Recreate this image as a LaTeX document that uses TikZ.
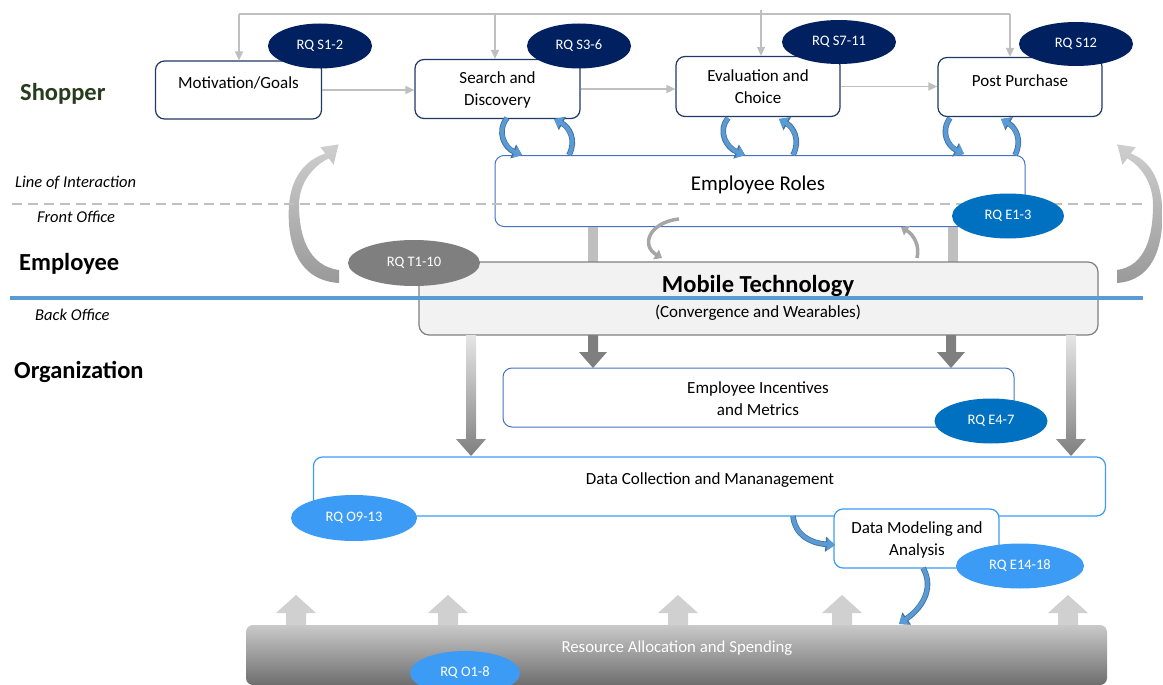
\documentclass[tikz,border=0pt]{standalone}
\usepackage{fontspec}
\setmainfont{Carlito}
\usetikzlibrary{arrows.meta,shapes.geometric}
\definecolor{boxnavy}{HTML}{1F3864}
\definecolor{rqnavy}{HTML}{002060}
\definecolor{erblue}{HTML}{4472C4}
\definecolor{rqblue}{HTML}{0070C0}
\definecolor{dcblue}{HTML}{3C9CF5}
\definecolor{rqlight}{HTML}{3C9CF5}
\definecolor{cblue}{HTML}{5B9BD5}
\definecolor{cbluedark}{HTML}{41719C}
\definecolor{fbgray}{HTML}{BFBFBF}
\definecolor{smallgray}{HTML}{A6A6A6}
\definecolor{darkarrow}{HTML}{7F7F7F}
\definecolor{uparrow}{HTML}{D0D0D0}
\definecolor{mtfill}{HTML}{F2F2F2}
\definecolor{mtdraw}{HTML}{7F7F7F}
\definecolor{shopgreen}{HTML}{263C1C}
\definecolor{lineblue}{HTML}{5B9BD5}
\definecolor{dashgray}{HTML}{C0C0C0}
\begin{document}
\begin{tikzpicture}[x=1pt,y=-1pt,
  shopbox/.style={draw=boxnavy, line width=1.2pt, rounded corners=9pt, fill=white, inner sep=0pt},
  erbox/.style={draw=erblue, line width=1pt, rounded corners=9pt, inner sep=0pt},
  dcbox/.style={draw=dcblue, line width=1.2pt, rounded corners=9pt, fill=white, inner sep=0pt},
  rq/.style={ellipse, inner sep=0pt, text=white, font=\fontsize{14.5}{17}\selectfont},
  txt/.style={font=\fontsize{17}{22}\selectfont, align=center, inner sep=0pt},
  sidelab/.style={anchor=west, inner sep=0pt, font=\itshape\fontsize{16.5}{19}\selectfont},
  sidehead/.style={anchor=west, inner sep=0pt, font=\bfseries\fontsize{24.5}{28}\selectfont},
  fb/.style={draw=fbgray, line width=1.5pt},
  fbarrow/.style={fb, -{Triangle[length=9pt,width=8pt]}},
  bluecurve/.style={draw=cblue, line width=4pt, -{Triangle[length=8pt,width=12pt]},
     preaction={draw=cbluedark, line width=5.6pt, -{Triangle[length=9.5pt,width=14.5pt]}}},
  bigcurve/.style={top color=black!19, bottom color=black!40},
  smallcurve/.style={draw=smallgray, line width=3.5pt, -{Triangle[length=7pt,width=11pt]}}
]
\useasboundingbox (0,0) rectangle (1163,685);

% ---------- shopper row ----------
\node[shopbox, minimum width=166pt, minimum height=58pt] (mot)  at (238.5,90) {};
\node[shopbox, minimum width=165pt, minimum height=59pt] (srch) at (497.5,89) {};
\node[shopbox, minimum width=164pt, minimum height=60pt] (eval) at (758,86.5) {};
\node[shopbox, minimum width=164pt, minimum height=59pt] (post) at (1020,87) {};
\node[txt] (motT)  at (238.5,83) {Motivation/Goals};
\node[txt] (srchT) at (497.5,90) {Search and\\Discovery};
\node[txt] (evalT) at (758,87) {Evaluation and\\Choice};
\node[txt] (postT) at (1020,81) {Post Purchase};

% top feedback line
\coordinate (t1) at (239,14);
\coordinate (t2) at (495,14);
\coordinate (t3) at (761,10);
\coordinate (t4) at (1010,14);
\draw[fb] (t1) -- (t4);
\draw[fbarrow] (t1) -- (t1 |- mot.north);
\draw[fbarrow] (t2) -- (t2 |- srch.north);
\draw[fbarrow] (t3) -- (t3 |- eval.north);
\draw[fbarrow] (t4) -- (t4 |- post.north);
\draw[fbarrow] (mot.east) -- (mot.east -| srch.west);
\draw[fbarrow] (srch.east) -- (srch.east -| eval.west);
\draw[fbarrow] (eval.east) -- (eval.east -| post.west);

% RQ shopper ovals
\node[rq, fill=rqnavy, minimum width=104pt, minimum height=45pt] (rqs1) at (320,46) {RQ S1-2};
\node[rq, fill=rqnavy, minimum width=104pt, minimum height=45pt] (rqs3) at (579,46) {RQ S3-6};
\node[rq, fill=rqnavy, minimum width=114pt, minimum height=44pt] (rqs7) at (839,42) {RQ S7-11};
\node[rq, fill=rqnavy, minimum width=114pt, minimum height=44pt] (rqs12) at (1076,44) {RQ S12};

% ---------- side labels ----------
\node[sidehead, text=shopgreen] (lshop) at (20,94) {Shopper};
\node[sidelab] (lloi) at (15,183) {Line of Interaction};
\node[sidelab] (lfo) at (37,217) {Front Office};
\node[sidehead] (lemp) at (19,264) {Employee};
\node[sidelab] (lbo) at (35,315) {Back Office};
\node[sidehead] (lorg) at (14,372) {Organization};

% ---------- employee roles ----------
\node[erbox, minimum width=530pt, minimum height=71pt] (er) at (760,191) {};
\node[inner sep=0pt, font=\fontsize{21}{24}\selectfont] (erT) at (758,185) {Employee Roles};

% blue curved arrows between shopper boxes and employee roles
\coordinate (a1s) at (507,118); \coordinate (a1e) at (522,155);
\coordinate (a2s) at (569,155); \coordinate (a2e) at (554,119);
\coordinate (a3s) at (728,118); \coordinate (a3e) at (745,155);
\coordinate (a4s) at (793,155); \coordinate (a4e) at (779,119);
\coordinate (a5s) at (950,118); \coordinate (a5e) at (964,154);
\coordinate (a6s) at (1015,155); \coordinate (a6e) at (1001,119);
\draw[bluecurve] (a1s) .. controls (496,132) and (505,148) .. (a1e);
\draw[bluecurve] (a2s) .. controls (577,140) and (569,127) .. (a2e);
\draw[bluecurve] (a3s) .. controls (717,132) and (727,148) .. (a3e);
\draw[bluecurve] (a4s) .. controls (801,140) and (793,127) .. (a4e);
\draw[bluecurve] (a5s) .. controls (940,132) and (948,146) .. (a5e);
\draw[bluecurve] (a6s) .. controls (1023,140) and (1015,127) .. (a6e);

% big gray curved (tapered) arrows
\shade[bigcurve] (339,283) .. controls (293,280) and (287,235) .. (289,205)
   .. controls (291,178) and (305,160) .. (325.2,153.6)
   -- (320.4,147.2) -- (338.6,144.4) -- (333.6,164.8) -- (328.8,158.4)
   .. controls (313,166) and (299,183) .. (299,205)
   .. controls (299,235) and (308,266) .. (339,270) -- cycle;
\begin{scope}[xshift=1456pt, xscale=-1]
\shade[bigcurve] (339,283) .. controls (297,280) and (292,235) .. (294,205)
   .. controls (296,178) and (307,160) .. (325.2,153.6)
   -- (320.4,147.2) -- (338.6,144.4) -- (333.6,164.8) -- (328.8,158.4)
   .. controls (315,166) and (303,183) .. (303,205)
   .. controls (303,235) and (310,266) .. (339,270) -- cycle;
\end{scope}

% dashed line of interaction
\coordinate (d1) at (12,204);
\coordinate (d2) at (1143,204);
\draw[draw=dashgray, line width=2.4pt, dash pattern=on 10pt off 6pt] (d1) -- (d2);

\node[rq, fill=rqblue, minimum width=112pt, minimum height=45pt] (rqe1) at (1008,216) {RQ E1-3};

% ---------- mobile technology ----------
\fill[fbgray] (588,227) rectangle (598,262);
\fill[fbgray] (948,227) rectangle (958,262);
\coordinate (s1s) at (679,219); \coordinate (s1e) at (662,258);
\coordinate (s2s) at (917,258); \coordinate (s2e) at (901,227);
\draw[smallcurve] (s1s) .. controls (650,222) and (640,245) .. (s1e);
\draw[smallcurve] (s2s) .. controls (920,246) and (914,235) .. (s2e);

\node[draw=mtdraw, fill=mtfill, line width=1.2pt, rounded corners=10pt, minimum width=679pt, minimum height=73pt, inner sep=0pt] (mt) at (758.5,298.5) {};
\node[inner sep=0pt, font=\bfseries\fontsize{24.5}{28}\selectfont] (mtT) at (758,286) {Mobile Technology};
\node[txt] (mtS) at (758,313) {(Convergence and Wearables)};
\coordinate (bl3) at (10,298);
\coordinate (bl4) at (1143,298);
\draw[draw=lineblue, line width=4pt] (bl3) -- (bl4);
\node[rq, fill=darkarrow, minimum width=132pt, minimum height=46pt] (rqt) at (414,263) {RQ T1-10};

% down block arrows from mobile technology
\fill[darkarrow] (588,335) -- (598,335) -- (598,352) -- (607,352) -- (593,368) -- (579,352) -- (588,352) -- cycle;
\fill[darkarrow] (946,335) -- (956,335) -- (956,352) -- (965,352) -- (951,368) -- (937,352) -- (946,352) -- cycle;
\shade[top color=black!10, bottom color=darkarrow] (466,335) -- (476,335) -- (476,439) -- (486,439) -- (471,456) -- (456,439) -- (466,439) -- cycle;
\shade[top color=black!10, bottom color=darkarrow] (1066,335) -- (1076,335) -- (1076,439) -- (1086,439) -- (1071,456) -- (1056,439) -- (1066,439) -- cycle;

% ---------- employee incentives ----------
\node[erbox, fill=white, minimum width=511pt, minimum height=59pt] (ei) at (758.5,397.5) {};
\node[txt] (eiT) at (758,399) {Employee Incentives\\and Metrics};
\node[rq, fill=rqblue, minimum width=113pt, minimum height=45pt] (rqe4) at (991,421) {RQ E4-7};

% ---------- data collection ----------
\node[dcbox, minimum width=792pt, minimum height=59pt] (dc) at (709.5,486.5) {};
\node[txt] (dcT) at (710,480) {Data Collection and Mananagement};
\node[rq, fill=rqlight, minimum width=126pt, minimum height=46pt] (rqo9) at (354,518) {RQ O9-13};

\node[dcbox, minimum width=165pt, minimum height=59pt] (dm) at (916.5,538.5) {};
\node[txt] (dmT) at (917,540) {Data Modeling and\\Analysis};
\node[rq, fill=rqlight, minimum width=128pt, minimum height=45pt] (rqe14) at (1020,566) {RQ E14-18};

\coordinate (c1s) at (793,516); \coordinate (c1e) at (835,545);
\draw[bluecurve] (c1s) .. controls (795,535) and (810,543) .. (c1e);

% ---------- resource allocation ----------
\foreach \c in {296,448,678,842,1068} {
  \fill[uparrow] (\c-10,626) -- (\c-10,613) -- (\c-20,613) -- (\c,595) -- (\c+20,613) -- (\c+10,613) -- (\c+10,626) -- cycle;
}
\node[top color=black!21, bottom color=black!57, rounded corners=7pt, minimum width=861pt, minimum height=60pt, inner sep=0pt] (res) at (676.5,655) {};
\node[inner sep=0pt, text=white, font=\fontsize{16.8}{20}\selectfont] (resT) at (677,648) {Resource Allocation and Spending};
\coordinate (c2s) at (923,568); \coordinate (c2e) at (899,624);
\draw[bluecurve] (c2s) .. controls (933,585) and (926,605) .. (c2e);
\node[rq, fill=rqlight, minimum width=110pt, minimum height=44pt] (rqo1) at (465,673) {RQ O1-8};
\end{tikzpicture}
\end{document}
